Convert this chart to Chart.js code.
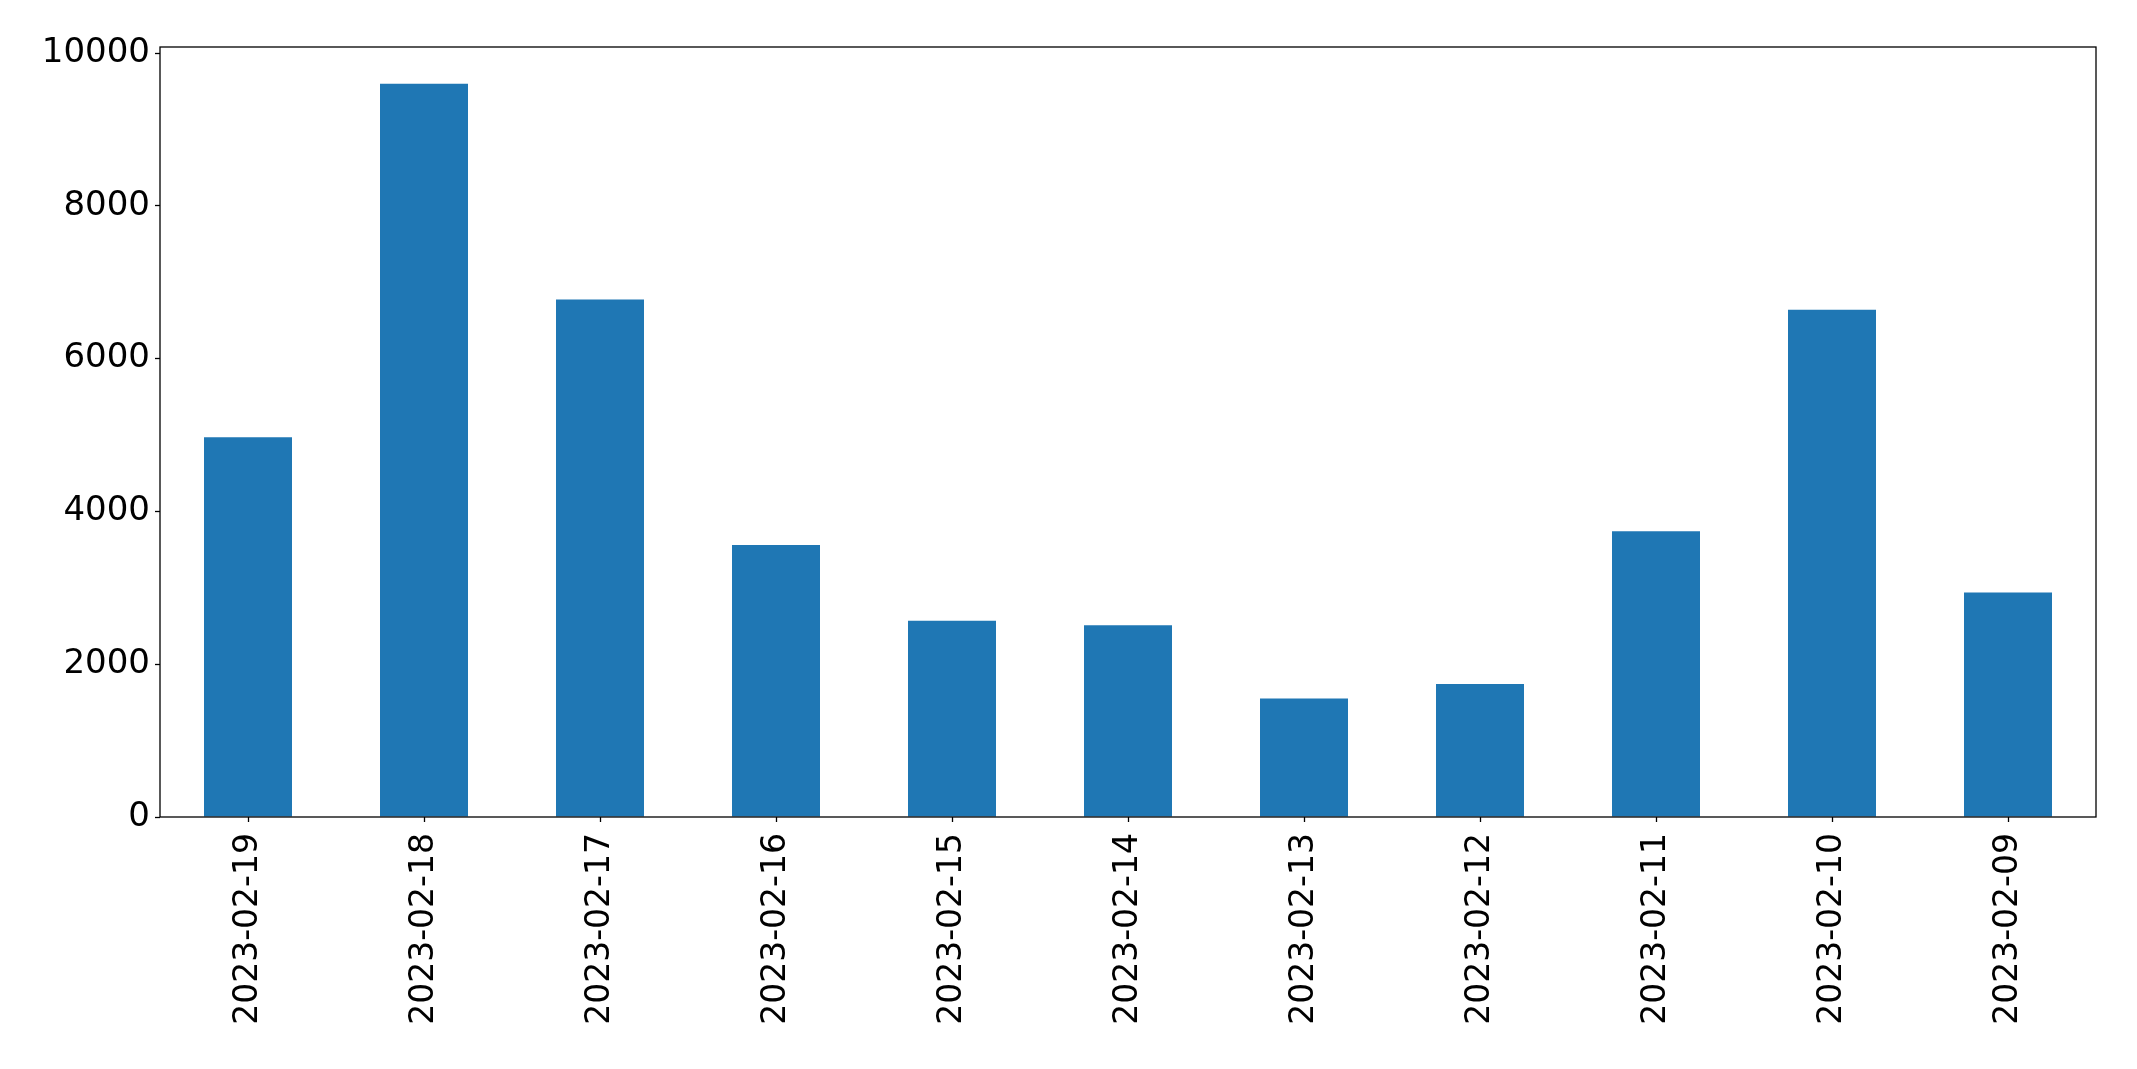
<!DOCTYPE html>
<html>
<head>
<meta charset="utf-8">
<script src="https://cdn.jsdelivr.net/npm/chart.js@4"></script>
<style>
  html, body { margin: 0; padding: 0; background: #fff; }
  #wrap { width: 2137px; height: 1069px; }
</style>
</head>
<body>
<div id="wrap"><canvas id="barChart" width="2137" height="1069"></canvas></div>
<script>
// dates as they appear on the x axis (newest first)
const dates = ['2023-02-19', '2023-02-18', '2023-02-17', '2023-02-16', '2023-02-15', '2023-02-14',
               '2023-02-13', '2023-02-12', '2023-02-11', '2023-02-10', '2023-02-09'];
const counts = [4970, 9600, 6775, 3560, 2570, 2510, 1550, 1740, 3740, 6640, 2940];
const yTicks = [0, 2000, 4000, 6000, 8000, 10000];
const yMax = 10080;

// matplotlib style box around the plot area
const frame = {
    id: 'frame',
    afterDraw(chart) {
        const { ctx, chartArea: a } = chart;
        ctx.save();
        ctx.strokeStyle = '#000';
        ctx.lineWidth = 1.3;
        ctx.strokeRect(a.left, a.top, a.right - a.left, a.bottom - a.top);
        ctx.restore();
    }
};

new Chart(document.getElementById('barChart').getContext('2d'), {
    type: 'bar',
    data: {
        labels: dates,
        datasets: [{
            data: counts,
            backgroundColor: '#1f77b4',
            borderWidth: 0,
            categoryPercentage: 1.0,
            barPercentage: 0.5
        }]
    },
    options: {
        responsive: false,
        animation: false,
        layout: { padding: { left: 0, top: 47, right: 41, bottom: 0 } },
        plugins: {
            legend: { display: false },
            tooltip: { enabled: false }
        },
        scales: {
            x: {
                offset: true,
                grid: { display: true, drawOnChartArea: false, offset: false, tickLength: 5, tickColor: '#000', tickWidth: 1.3 },
                border: { display: false },
                ticks: { color: '#000', font: { family: 'DejaVu Sans', size: 33 }, minRotation: 90, maxRotation: 90, autoSkip: false, padding: 11 },
                afterFit: scale => { scale.height = 252; }
            },
            y: {
                min: 0,
                max: yMax,
                grid: { display: true, drawOnChartArea: false, tickLength: 5, tickColor: '#000', tickWidth: 1.3 },
                border: { display: false },
                ticks: { color: '#000', font: { family: 'DejaVu Sans', size: 34 }, padding: 5, callback: v => String(v) },
                afterBuildTicks: scale => { scale.ticks = yTicks.map(v => ({ value: v })); },
                afterFit: scale => { scale.width = 160; }
            }
        }
    },
    plugins: [frame]
});
</script>
</body>
</html>
